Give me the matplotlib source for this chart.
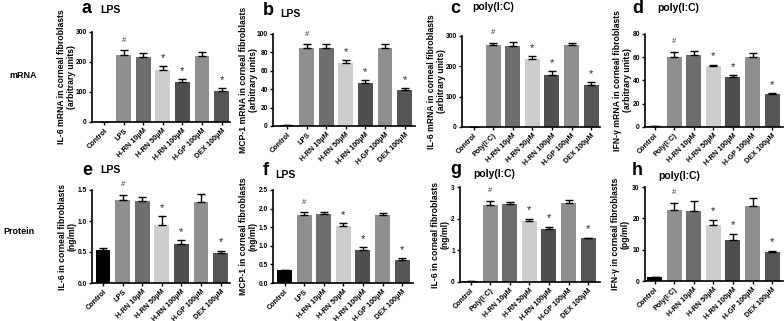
import numpy as np
import matplotlib.pyplot as plt

W, H = 784, 321

lps_labels = ['Control', 'LPS', 'H-RN 10μM', 'H-RN 50μM', 'H-RN 100μM', 'H-GP 100μM', 'DEX 100μM']
pic_labels = ['Control', 'Poly(I:C)', 'H-RN 10μM', 'H-RN 50μM', 'H-RN 100μM', 'H-GP 100μM', 'DEX 100μM']
colors = ['#000000', '#8f8f8f', '#6e6e6e', '#cdcdcd', '#4f4f4f', '#8f8f8f', '#555555']

# mRNA
a_val = [1, 222, 218, 174, 134, 220, 104]
a_err = [0, 18, 12, 13, 9, 13, 9]
b_val = [1, 85, 85, 68.5, 47, 85, 39]
b_err = [0, 4, 4, 3, 3, 4, 2]
c_val = [1, 270, 266, 224, 171, 269, 137]
c_err = [0, 7, 13, 10, 12, 9, 10]
d_val = [1, 60.5, 62, 52.5, 43, 60.5, 28.5]
d_err = [0, 4, 3, 1, 1.5, 3, 0.6]
# protein
e_val = [0.53, 1.34, 1.33, 0.94, 0.63, 1.30, 0.49]
e_err = [0.03, 0.08, 0.05, 0.14, 0.06, 0.13, 0.03]
f_val = [0.35, 1.83, 1.85, 1.54, 0.88, 1.83, 0.63]
f_err = [0, 0.07, 0.07, 0.07, 0.08, 0.05, 0.03]
g_val = [0.03, 2.42, 2.46, 1.93, 1.68, 2.5, 1.38]
g_err = [0, 0.13, 0.07, 0.07, 0.06, 0.08, 0.02]
h_val = [1.3, 22.8, 22.4, 18, 13, 23.8, 9.2]
h_err = [0, 2.2, 3.2, 1.5, 2, 2.7, 0.4]

panels = [
    ('a', 'LPS', lps_labels, a_val, a_err, 300, [0, 100, 200, 300], '{:.0f}',
     'IL-6 mRNA in corneal fibroblasts\n(arbitrary units)'),
    ('b', 'LPS', lps_labels, b_val, b_err, 100, [0, 20, 40, 60, 80, 100], '{:.0f}',
     'MCP-1 mRNA in corneal fibroblasts\n(arbitrary units)'),
    ('c', 'poly(I:C)', pic_labels, c_val, c_err, 300, [0, 100, 200, 300], '{:.0f}',
     'IL-6 mRNA in corneal fibroblasts\n(arbitrary units)'),
    ('d', 'poly(I:C)', pic_labels, d_val, d_err, 80, [0, 20, 40, 60, 80], '{:.0f}',
     'IFN-γ mRNA in corneal fibroblasts\n(arbitrary units)'),
    ('e', 'LPS', lps_labels, e_val, e_err, 1.5, [0, 0.5, 1.0, 1.5], '{:.1f}',
     'IL-6 in corneal fibroblasts\n(ng/ml)'),
    ('f', 'LPS', lps_labels, f_val, f_err, 2.5, [0, 0.5, 1.0, 1.5, 2.0, 2.5], '{:.1f}',
     'MCP-1 in corneal fibroblasts\n(ng/ml)'),
    ('g', 'poly(I:C)', pic_labels, g_val, g_err, 3, [0, 1, 2, 3], '{:.0f}',
     'IL-6 in corneal fibroblasts\n(ng/ml)'),
    ('h', 'poly(I:C)', pic_labels, h_val, h_err, 30, [0, 10, 20, 30], '{:.0f}',
     'IFN-γ in corneal fibroblasts\n(pg/ml)'),
]

# layout in pixels: axis x, first bar centre, right end, top, bottom,
# ylabel right edge, letter (x, baseline), title (x, baseline)
layout = [
    (92, 104, 230, 32, 122, 76, 82, 13, 100, 13),
    (273, 287, 415, 34, 126, 258, 263, 15, 280, 17),
    (462, 473.5, 600, 36, 127, 446, 450, 13, 472, 10),
    (645, 654.5, 783, 34, 127, 632, 632, 13, 657, 11),
    (92, 103, 230, 190, 283, 77, 82, 175, 100, 173),
    (273, 284.5, 413, 190, 283, 258, 263, 175, 275, 178),
    (460, 470.5, 600, 187, 282, 450, 450, 174, 473, 177),
    (645, 654.5, 783, 187, 281, 630, 632, 175, 658, 179),
]
step = 19.6  # px between bars

plt.rcParams['font.family'] = ['Liberation Sans', 'DejaVu Sans']
fig = plt.figure(figsize=(W / 100, H / 100), dpi=100)

for (letter, title, labels, vals, errs, ymax, yticks, fmt, ylabel), lay in zip(panels, layout):
    x0, cc, x1, yt, yb, lab_r, lx, ly, tx, ty = lay
    ax = fig.add_axes([x0 / W, 1 - yb / H, (x1 - x0) / W, (yb - yt) / H])
    x = np.arange(len(vals))
    ax.bar(x, vals, width=0.76, color=colors,
           yerr=[np.zeros(len(errs)), errs],
           error_kw=dict(ecolor='black', elinewidth=1, capsize=3, capthick=1))
    ax.set_xlim(-(cc - x0) / step, (x1 - cc) / step)
    ax.set_ylim(0, ymax)
    ax.set_yticks(yticks)
    ax.set_yticklabels([fmt.format(t) for t in yticks], fontsize=4.8, fontweight='bold')
    ax.set_xticks(x)
    ax.set_xticklabels(labels, rotation=45, ha='right', rotation_mode='anchor',
                       fontsize=5.2, fontweight='bold')
    ax.tick_params(length=2.5, width=1, pad=1.2)
    for s in ['top', 'right']:
        ax.spines[s].set_visible(False)
    for s in ['left', 'bottom']:
        ax.spines[s].set_linewidth(1.2)
    # y label as figure text, right edge at the measured position
    fig.text(lab_r / W, 1 - (yt + yb) / 2 / H, ylabel, rotation=90, fontsize=6.2,
             fontweight='bold', ha='right', va='center', multialignment='center',
             linespacing=1.15)
    # significance marks
    for i, v in enumerate(vals):
        top = v + errs[i] + ymax * 0.09
        if i == 1:
            ax.text(i, top + ymax * 0.02, '#', ha='center', va='center', fontsize=5.5,
                    color='#333333')
        elif i in (3, 4, 6):
            ax.text(i, top, '*', ha='center', va='center', fontsize=8, color='#222222')
    fig.text(lx / W, 1 - ly / H, letter, fontsize=13, fontweight='bold',
             ha='left', va='baseline')
    fig.text(tx / W, 1 - ty / H, title, fontsize=7.5, fontweight='bold',
             ha='left', va='baseline')

fig.text(23 / W, 1 - 75 / H, 'mRNA', fontsize=6.5, fontweight='bold', ha='center', va='center')
fig.text(19 / W, 1 - 232 / H, 'Protein', fontsize=6.5, fontweight='bold', ha='center', va='center')

fig.savefig('out.png', dpi=100)
